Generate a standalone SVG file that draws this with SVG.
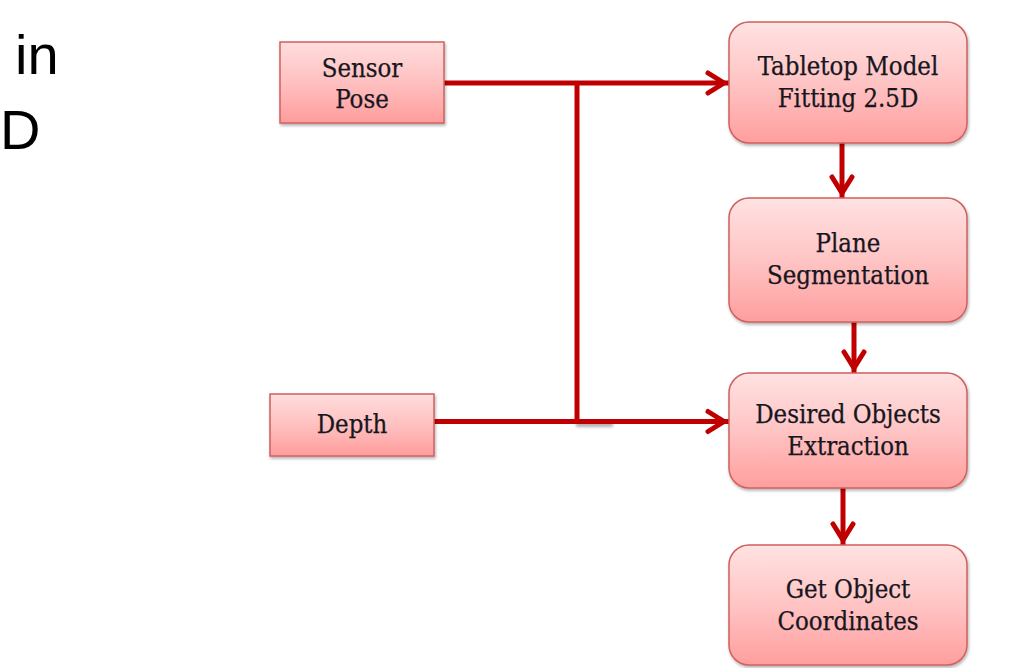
<svg xmlns="http://www.w3.org/2000/svg" width="1023" height="668" viewBox="0 0 1023 668">
  <defs>
    <linearGradient id="gRound" x1="0" y1="0" x2="0" y2="1">
      <stop offset="0" stop-color="#FFE2E2"/>
      <stop offset="0.5" stop-color="#FFC4C4"/>
      <stop offset="1" stop-color="#FF9E9E"/>
    </linearGradient>
    <linearGradient id="gRect" x1="0" y1="0" x2="0" y2="1">
      <stop offset="0" stop-color="#FFDDDD"/>
      <stop offset="0.5" stop-color="#FFC0C0"/>
      <stop offset="1" stop-color="#FF9C9C"/>
    </linearGradient>
    <filter id="shadow" x="-10%" y="-10%" width="125%" height="130%">
      <feDropShadow dx="1" dy="2" stdDeviation="1.5" flood-color="#000" flood-opacity="0.3"/>
    </filter>
    <filter id="blur" x="-20%" y="-100%" width="140%" height="300%">
      <feGaussianBlur stdDeviation="1.5"/>
    </filter>
    <marker id="chev" viewBox="-26 -14 30 28" markerWidth="30" markerHeight="28" markerUnits="userSpaceOnUse" refX="0" refY="0" orient="auto">
      <path d="M-21,-10 L-5,0 L-21,10" fill="none" stroke="#C00000" stroke-width="5" stroke-linecap="round" stroke-linejoin="miter"/>
    </marker>
    <style>
      .rect { fill: url(#gRect); stroke: #D0605E; stroke-width: 1.5; filter: url(#shadow); }
      .round { fill: url(#gRound); stroke: #D0605E; stroke-width: 1.5; filter: url(#shadow); }
      .lbl { font-family: "DejaVu Serif Condensed", "DejaVu Serif", serif; font-stretch: condensed; font-size: 25.5px; fill: #161620; stroke: #161620; stroke-width: 0.25; text-anchor: middle; }
      .side { font-family: "Liberation Sans", Arial, sans-serif; font-size: 56px; fill: #000; }
      .conn { fill: none; stroke: #C00000; stroke-width: 5; }
    </style>
  </defs>
  <rect width="1023" height="668" fill="#FFFFFF"/>

  <g id="side-text">
    <text class="side" x="15" y="74">in</text>
    <text class="side" x="0" y="149">D</text>
  </g>

  <g id="connectors">
    <rect x="576" y="422" width="37" height="5" fill="#555" opacity="0.45" filter="url(#blur)"/>
    <path class="conn" d="M444,83 H729" marker-end="url(#chev)"/>
    <path class="conn" d="M577,83 V421"/>
    <path class="conn" d="M434,421.5 H729" marker-end="url(#chev)"/>
    <path class="conn" d="M842,143 V198" marker-end="url(#chev)"/>
    <path class="conn" d="M854,322 V373" marker-end="url(#chev)"/>
    <path class="conn" d="M843,488 V545" marker-end="url(#chev)"/>
  </g>

  <g id="sensor-pose">
    <rect class="rect" x="280" y="42" width="164" height="81"/>
    <text class="lbl" x="362" y="77">Sensor</text>
    <text class="lbl" x="362" y="108">Pose</text>
  </g>

  <g id="depth">
    <rect class="rect" x="270" y="394" width="164" height="62"/>
    <text class="lbl" x="352" y="433">Depth</text>
  </g>

  <g id="tabletop-model">
    <rect class="round" x="729" y="22" width="238" height="121" rx="20" ry="20"/>
    <text class="lbl" x="848" y="75">Tabletop Model</text>
    <text class="lbl" x="848" y="107">Fitting 2.5D</text>
  </g>

  <g id="plane-segmentation">
    <rect class="round" x="729" y="198" width="238" height="124" rx="20" ry="20"/>
    <text class="lbl" x="848" y="252">Plane</text>
    <text class="lbl" x="848" y="284">Segmentation</text>
  </g>

  <g id="desired-objects">
    <rect class="round" x="729" y="373" width="238" height="115" rx="20" ry="20"/>
    <text class="lbl" x="848" y="423">Desired Objects</text>
    <text class="lbl" x="848" y="455">Extraction</text>
  </g>

  <g id="get-object-coordinates">
    <rect class="round" x="729" y="545" width="238" height="120" rx="20" ry="20"/>
    <text class="lbl" x="848" y="598">Get Object</text>
    <text class="lbl" x="848" y="630">Coordinates</text>
  </g>
</svg>
